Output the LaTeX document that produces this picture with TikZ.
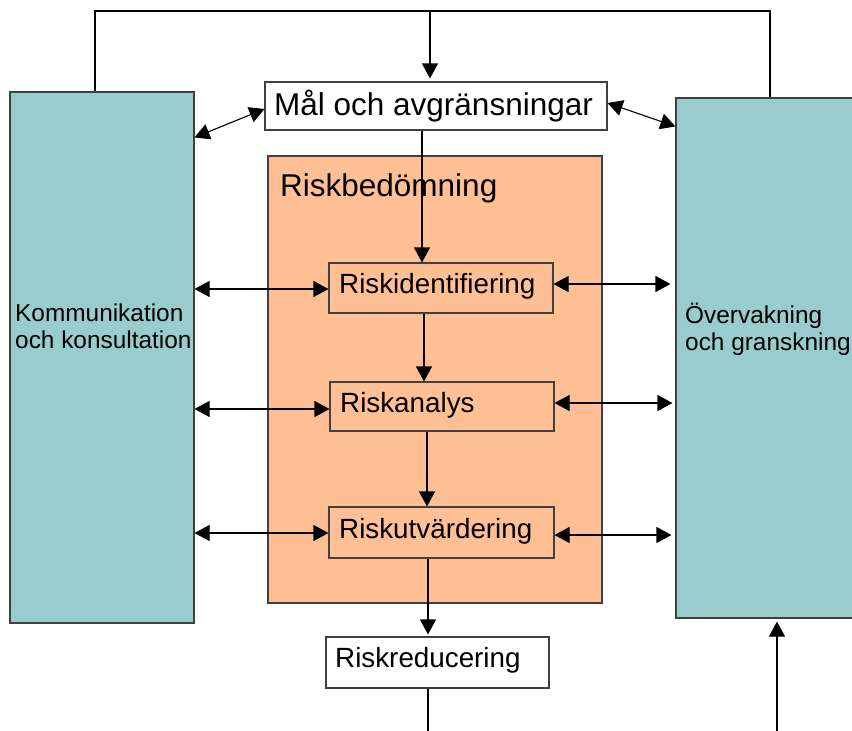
\documentclass[tikz,border=0pt]{standalone}
\usepackage{fontspec}
\setmainfont{Liberation Sans}
\usetikzlibrary{arrows.meta,calc}
\definecolor{teal1}{RGB}{153,204,204}
\definecolor{orange1}{RGB}{255,191,148}
\definecolor{bord}{RGB}{64,64,64}
\tikzset{
  x=1pt,y=-1pt,
  boxw/.style={draw=bord,line width=1.1pt,fill=white,inner sep=0pt,minimum width=#1},
  boxc/.style={draw=bord,line width=1.1pt,fill=teal1,inner sep=0pt},
  boxo/.style={draw=bord,line width=1.1pt,fill=orange1,inner sep=0pt},
  txt/.style={inner sep=0pt,anchor=base west,text=black},
  big/.style={txt,font=\fontsize{31.5}{36}\selectfont},
  mid/.style={txt,font=\fontsize{27.8}{33}\selectfont},
  sml/.style={txt,font=\fontsize{24.4}{28}\selectfont},
  arr/.style={line width=1.1pt,-{Triangle[length=15pt,width=16pt]}},
  darr/.style={line width=1.1pt,{Triangle[length=15pt,width=16pt]}-{Triangle[length=15pt,width=16pt]}},
  ln/.style={line width=1.1pt}
}
\begin{document}
\begin{tikzpicture}
\useasboundingbox (0,0) rectangle (852,731);
\clip (0,0) rectangle (852,731);
% big boxes
\node[boxc,minimum width=184pt,minimum height=531pt] (komm) at (102,357.5) {};
\node[boxc,minimum width=194pt,minimum height=520pt] (overv) at (773,358) {};
\node[boxo,minimum width=334pt,minimum height=447pt] (bed) at (435,379.5) {};
\node[boxw=342pt,minimum height=48pt] (mal) at (436,106) {};
\node[boxo,minimum width=224pt,minimum height=50pt] (rid) at (441,288) {};
\node[boxo,minimum width=224pt,minimum height=49pt] (ran) at (442,406.5) {};
\node[boxo,minimum width=225pt,minimum height=51pt] (rut) at (441.5,532.5) {};
\node[boxw=223pt,minimum height=51pt] (rred) at (437.5,662.5) {};
% texts
\node[big] (tmal) at (274,115) {Mål och avgränsningar};
\node[big] (tbed) at (280,196) {Riskbedömning};
\node[mid] (trid) at (339,293) {Riskidentifiering};
\node[mid] (tran) at (340,412) {Riskanalys};
\node[mid] (trut) at (339,538) {Riskutvärdering};
\node[mid] (trred) at (335,667) {Riskreducering};
\node[sml] (tk1) at (15,321) {Kommunikation};
\node[sml] (tk2) at (15,348) {och konsultation};
\node[sml] (to1) at (685,323) {Övervakning};
\node[sml] (to2) at (685,350) {och granskning};
% top loop
\coordinate (tl) at (95,11);
\coordinate (tr) at (770,11);
\coordinate (tm) at (430,11);
\draw[ln] ([xshift=-7pt]komm.north) -- (tl) -- (tr) -- (tr |- overv.north);
\draw[arr] (tm) -- ([yshift=3pt]tm |- mal.north);
% diagonals
\draw[darr] ([yshift=-46pt]komm.north east) -- ([yshift=-3pt]mal.west);
\draw[darr] ([yshift=3pt]mal.east) -- ([yshift=-29pt]overv.north west);
% vertical chain
\coordinate (v1) at ([xshift=-14pt]mal.south);
\draw[arr] (v1) -- (v1 |- rid.north);
\coordinate (v2) at ([xshift=-17pt]rid.south);
\draw[arr] (v2) -- (v2 |- ran.north);
\coordinate (v3) at ([xshift=-15pt]ran.south);
\draw[arr] (v3) -- (v3 |- rut.north);
\coordinate (v4) at ([xshift=-13.5pt]rut.south);
\draw[arr] (v4) -- ([yshift=2pt]v4 |- rred.north);
\coordinate (v5) at ([xshift=-9.5pt]rred.south);
\coordinate (b1) at (428,735);
\draw[ln] (v5) -- (b1);
\coordinate (b2) at (777,735);
\draw[arr] (b2) -- ([yshift=-3pt]b2 |- overv.south);
% horizontal double arrows left
\draw[darr] ([yshift=-1pt]komm.east |- rid.west) -- ([yshift=-1pt]rid.west);
\draw[darr] ([yshift=-2.5pt]komm.east |- ran.west) -- ([yshift=-2.5pt]ran.west);
\draw[darr] ([yshift=-0.5pt]komm.east |- rut.west) -- ([yshift=-0.5pt]rut.west);
% right
\draw[darr,shorten >=5pt] ([yshift=4pt]rid.east) -- ([yshift=4pt]rid.east -| overv.west);
\draw[darr,shorten >=3pt] ([yshift=3.5pt]ran.east) -- ([yshift=3.5pt]ran.east -| overv.west);
\draw[darr,shorten >=4pt] ([yshift=-2.5pt]rut.east) -- ([yshift=-2.5pt]rut.east -| overv.west);
\end{tikzpicture}
\end{document}
